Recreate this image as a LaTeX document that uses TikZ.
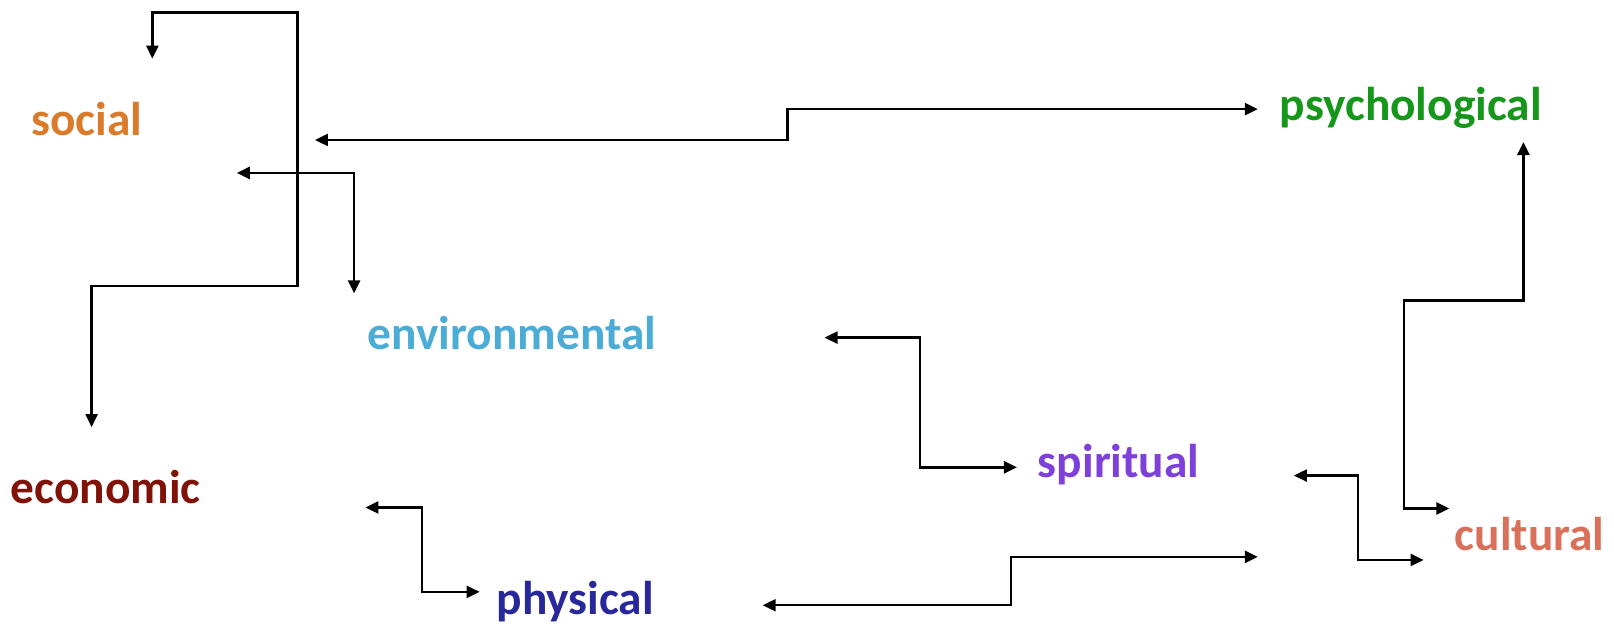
\documentclass[tikz,border=0pt]{standalone}
\usepackage{fontspec}
\setmainfont{Carlito}
\usetikzlibrary{arrows.meta}
\definecolor{cSocial}{RGB}{217,123,43}
\definecolor{cPsych}{RGB}{22,150,26}
\definecolor{cEnv}{RGB}{75,172,214}
\definecolor{cEcon}{RGB}{128,18,8}
\definecolor{cSpir}{RGB}{125,65,217}
\definecolor{cCult}{RGB}{217,112,90}
\definecolor{cPhys}{RGB}{40,40,155}
\begin{document}
\begin{tikzpicture}[x=0.51467pt,y=-0.51467pt,
  lbl/.style={anchor=base west, inner sep=0pt, font=\fontsize{23.7}{28}\selectfont\bfseries},
  link/.style={line width=1.2pt, {Triangle[length=6.5pt,width=6pt]}-{Triangle[length=6.5pt,width=6pt]}}]
\useasboundingbox (0,0) rectangle (1568,607);
% labels
\node[lbl, text=cSocial] (social) at (30,132) {social};
\node[lbl, text=cPsych] (psych) at (1243,117) {psychological};
\node[lbl, text=cEnv] (env) at (357,340) {environmental};
\node[lbl, text=cEcon] (econ) at (10,489) {economic};
\node[lbl, text=cSpir] (spir) at (1008,464) {spiritual};
\node[lbl, text=cCult] (cult) at (1413,535) {cultural};
\node[lbl, text=cPhys] (phys) at (482,597) {physical};
% connector ends
\coordinate (so1) at (148,57);
\coordinate (ec1) at (89,415);
\coordinate (so2) at (306,136);
\coordinate (ps2) at (1222,106);
\coordinate (so3) at (230,168);
\coordinate (en3) at (344,285);
\coordinate (en4) at (801,328);
\coordinate (sp4) at (988,454);
\coordinate (ec5) at (355,493);
\coordinate (ph5) at (466,575);
\coordinate (ph6) at (741,588);
\coordinate (cu6) at (1222,541);
\coordinate (sp7) at (1257,462);
\coordinate (cu7) at (1383,544);
\coordinate (ps8) at (1480,138);
\coordinate (cu8) at (1408,494);
% connectors
\draw[link] (so1) |- (289,12) |- (89,278) -- (ec1);
\draw[link] (so2) -| (765,106) -- (ps2);
\draw[link] (so3) -| (en3);
\draw[link] (en4) -| (894,454) -- (sp4);
\draw[link] (ec5) -| (410,575) -- (ph5);
\draw[link] (ph6) -| (982,541) -- (cu6);
\draw[link] (sp7) -| (1319,544) -- (cu7);
\draw[link] (ps8) |- (1364,292) |- (cu8);
\end{tikzpicture}
\end{document}
